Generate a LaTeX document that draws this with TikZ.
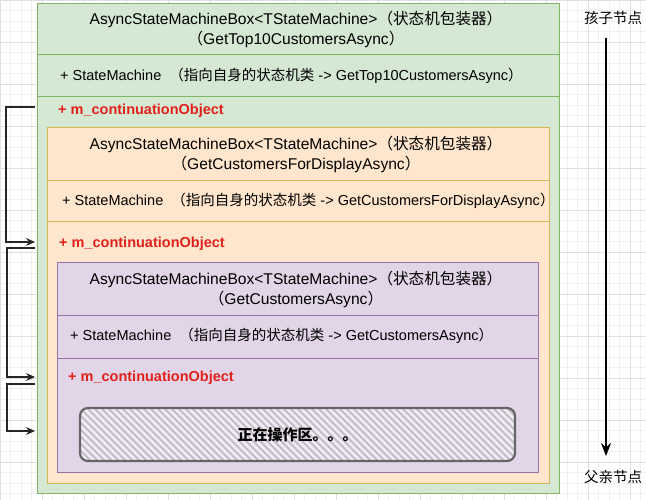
\documentclass[tikz,border=0pt]{standalone}
\usepackage{fontspec}
\setmainfont{Liberation Sans}
\newfontfamily\cjk{Noto Sans CJK SC}
\usepackage{tikz}
\usetikzlibrary{arrows.meta,positioning}

\definecolor{greenfill}{HTML}{D5E8D4}
\definecolor{greenline}{HTML}{82B366}
\definecolor{orangefill}{HTML}{FFE6CC}
\definecolor{orangeline}{HTML}{D6B656}
\definecolor{purplefill}{HTML}{E1D5E7}
\definecolor{purpleline}{HTML}{9673A6}
\definecolor{contred}{HTML}{E3211C}
\definecolor{workline}{HTML}{666666}
\definecolor{workfill}{HTML}{F1ECF3}
\definecolor{stripe}{HTML}{C4BCC8}

\begin{document}
\begin{tikzpicture}[x=1pt,y=-1pt,>={Stealth[length=9pt,width=8pt]},
    box/.style={line width=1pt,anchor=north west,inner sep=0pt},
    greenbox/.style={box,draw=greenline,fill=greenfill},
    orangebox/.style={box,draw=orangeline,fill=orangefill},
    purplebox/.style={box,draw=purpleline,fill=purplefill},
    boxtitle/.style={align=center,inner sep=0pt,font=\fontsize{15.6}{20}\selectfont},
    member/.style={anchor=west,inner sep=0pt,font=\fontsize{14.5}{16}\selectfont},
    cont/.style={anchor=west,inner sep=0pt,text=contred,font=\bfseries\fontsize{14.5}{16}\selectfont},
    side/.style={inner sep=0pt,font=\cjk\fontsize{14.5}{16}\selectfont},
    link/.style={->,draw=black!85,line width=1.2pt},
    workbox/.style={draw=workline,line width=2.2pt,rounded corners=8pt,fill=workfill,
      minimum width=435pt,minimum height=53pt,font=\cjk\bfseries\fontsize{15}{16}\selectfont,
      path picture={\foreach \i in {-70,-63,...,450}
        \draw[stripe,line width=1.8pt] ([xshift=\i pt]path picture bounding box.north west) -- ++(60,60);}}]

  \useasboundingbox (0,0) rectangle (646,500);
  % grid
  \foreach \x in {0,10.5,...,646} \draw[black!6,line width=0.4pt] (\x,0) -- (\x,500);
  \foreach \y in {0,10.5,...,500} \draw[black!6,line width=0.4pt] (0,\y) -- (646,\y);
  \foreach \x in {0,42,...,646} \draw[black!12,line width=0.5pt] (\x,0) -- (\x,500);
  \foreach \y in {0,42,...,500} \draw[black!12,line width=0.5pt] (0,\y) -- (646,\y);

  % outer box: GetTop10CustomersAsync
  \node[greenbox,minimum width=522pt,minimum height=490pt] (green) at (37,3) {};
  \draw[greenline,line width=1pt] (green.west |- 0,55) -- (green.east |- 0,55)
                                   (green.west |- 0,97) -- (green.east |- 0,97);
  \node[boxtitle] (gname) at (296,29) {AsyncStateMachineBox<TStateMachine>{\cjk（状态机包装器）}\\{\cjk（}GetTop10CustomersAsync{\cjk）}};
  \node[member] (gstate) at (60,76) {+ StateMachine\ \ {\cjk（指向自身的状态机类} -> GetTop10CustomersAsync{\cjk）}};
  \node[cont] (gcont) at (58,111) {+ m\_continuationObject};

  % middle box: GetCustomersForDisplayAsync
  \node[orangebox,minimum width=502pt,minimum height=356pt] (orange) at (47,127) {};
  \draw[orangeline,line width=1pt] (orange.west |- 0,181) -- (orange.east |- 0,181)
                                    (orange.west |- 0,222) -- (orange.east |- 0,222);
  \node[boxtitle] (oname) at (296,154) {AsyncStateMachineBox<TStateMachine>{\cjk（状态机包装器）}\\{\cjk（}GetCustomersForDisplayAsync{\cjk）}};
  \node[member] (ostate) at (62,201) {+ StateMachine\ \ {\cjk（指向自身的状态机类} -> GetCustomersForDisplayAsync{\cjk）}};
  \node[cont] (ocont) at (59,244) {+ m\_continuationObject};

  % inner box: GetCustomersAsync
  \node[purplebox,minimum width=481pt,minimum height=210pt] (purple) at (57,262) {};
  \draw[purpleline,line width=1pt] (purple.west |- 0,315) -- (purple.east |- 0,315)
                                    (purple.west |- 0,358) -- (purple.east |- 0,358);
  \node[boxtitle] (pname) at (296,289) {AsyncStateMachineBox<TStateMachine>{\cjk（状态机包装器）}\\{\cjk（}GetCustomersAsync{\cjk）}};
  \node[member] (pstate) at (70,336) {+ StateMachine\ \ {\cjk（指向自身的状态机类} -> GetCustomersAsync{\cjk）}};
  \node[cont] (pcont) at (68,378) {+ m\_continuationObject};

  \node[workbox] (work) at (297.5,434.5) {正在操作区。。。};

  % continuation links
  \coordinate (l1s) at (35,107);
  \coordinate (l1e) at (35,242);
  \coordinate (l2s) at (35,248);
  \coordinate (l2e) at (35,377);
  \coordinate (l3s) at (35,384);
  \coordinate (l3e) at (35,431);
  \draw[link] (l1s) -- ++(-29,0) |- (l1e);
  \draw[link] (l2s) -- ++(-28,0) |- (l2e);
  \draw[link] (l3s) -- ++(-28,0) |- (l3e);

  % direction
  \node[side] (child) at (613,18) {孩子节点};
  \node[side] (parent) at (613,477) {父亲节点};
  \coordinate (dtop) at (606,38);
  \coordinate (dbot) at (606,456);
  \draw[->,>={Stealth[length=13pt,width=10pt]},line width=1.8pt] (dtop) -- (dbot);
\end{tikzpicture}
\end{document}
